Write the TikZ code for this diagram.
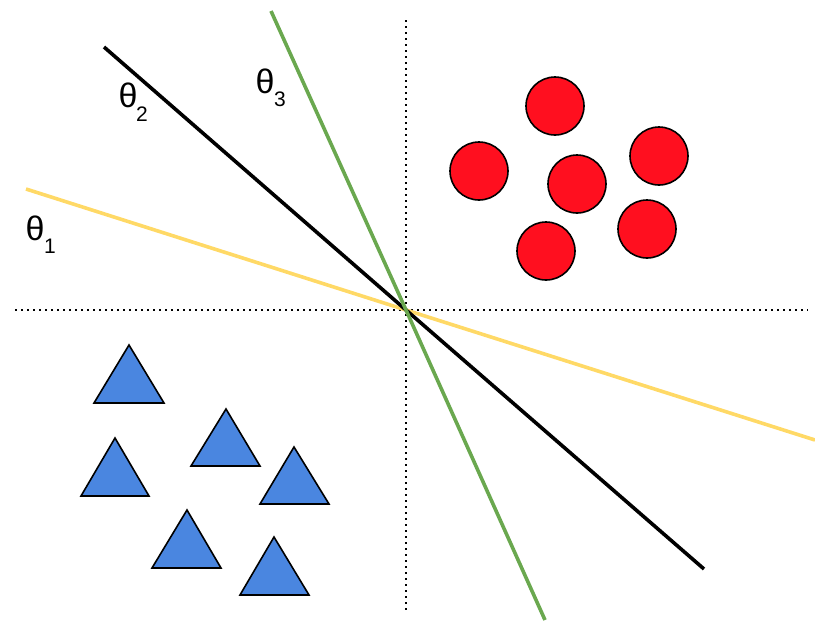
\documentclass[tikz,border=0pt]{standalone}
\usepackage{fontspec}
\setmainfont{Liberation Sans}
\definecolor{dotred}{HTML}{FF0F1F}
\definecolor{triblue}{HTML}{4A86E0}
\definecolor{lineyellow}{HTML}{FFD966}
\definecolor{linegreen}{HTML}{6AA84F}
\tikzset{
  axisline/.style={line width=1.6pt, dash pattern=on 1.6pt off 4.4pt},
  sepline/.style={line width=3.6pt},
  dotnode/.style={circle, draw=black, line width=1.6pt, fill=dotred, minimum size=58pt, inner sep=0pt},
  tri/.style={draw=black, line width=1.6pt, fill=triblue, line join=miter},
  thlabel/.style={inner sep=0pt, font=\fontsize{34}{40}\selectfont},
  sublabel/.style={inner sep=0pt, font=\fontsize{21}{25}\selectfont},
}
\begin{document}
\begin{tikzpicture}[x=1pt,y=-1pt]
\useasboundingbox (0,0) rectangle (815,625);
% axes
\coordinate (vt) at (406,20);
\coordinate (vb) at (406,612);
\coordinate (hl) at (15,310);
\coordinate (hr) at (808,310);
\coordinate (o) at (406,310);
\draw[axisline] (vt) -- (vb);
\draw[axisline] (hl) -- (hr);
% separating lines
\coordinate (y1) at (26,189);
\coordinate (y2) at (815,440);
\coordinate (b1) at (104,47);
\coordinate (b2) at (704,569);
\coordinate (g1) at (271,11);
\coordinate (g2) at (545,620);
\draw[sepline, lineyellow] (y1) -- (o) -- (y2);
\draw[sepline, black] (b1) -- (o) -- (b2);
\draw[sepline, linegreen] (g1) -- (o) -- (g2);
% labels
\node[thlabel] (th1) at (35,228) {θ};
\node[sublabel] (s1) at (50,246) {1};
\node[thlabel] (th2) at (128,95) {θ};
\node[sublabel] (s2) at (142,114) {2};
\node[thlabel] (th3) at (265,81) {θ};
\node[sublabel] (s3) at (280,99) {3};
% circles
\node[dotnode] (c1) at (555,106) {};
\node[dotnode] (c2) at (479,171) {};
\node[dotnode] (c3) at (577,184) {};
\node[dotnode] (c4) at (659,156) {};
\node[dotnode] (c5) at (647,229) {};
\node[dotnode] (c6) at (546,251) {};
% triangles
\draw[tri] (129,345) -- (164,403) -- (94,403) -- cycle;
\draw[tri] (226,409) -- (260,466) -- (191,466) -- cycle;
\draw[tri] (115,438) -- (149,496) -- (81,496) -- cycle;
\draw[tri] (294,447) -- (329,504) -- (260,504) -- cycle;
\draw[tri] (187,510) -- (221,568) -- (152,568) -- cycle;
\draw[tri] (274,537) -- (309,595) -- (240,595) -- cycle;
\end{tikzpicture}
\end{document}
